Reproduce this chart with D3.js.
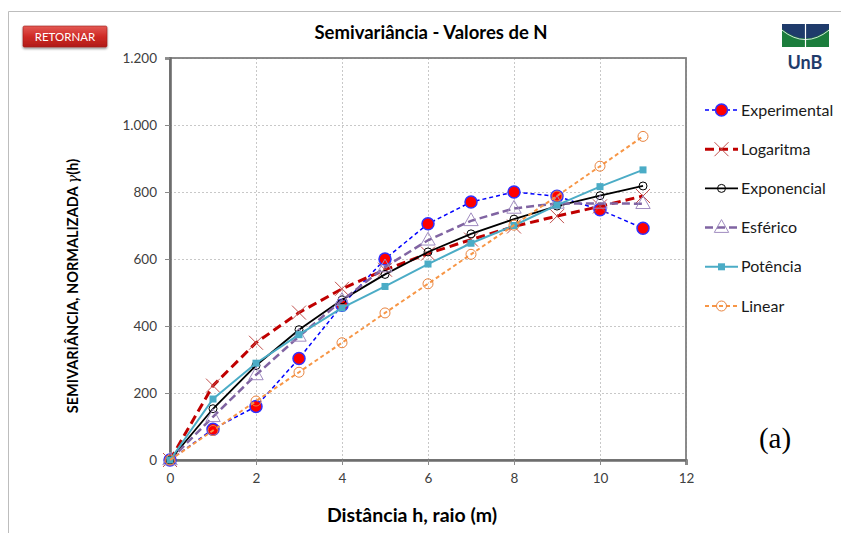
<!DOCTYPE html>
<html>
<head>
<meta charset="utf-8">
<script src="https://cdn.jsdelivr.net/npm/d3@7"></script>
<style>
  html, body { margin: 0; padding: 0; background: #fff; }
  svg { display: block; }
  text { font-family: Lato, "Noto Sans", sans-serif; }
</style>
</head>
<body>
<svg id="chart" width="841" height="533"></svg>
<script>
// Lag distances h (m)
const distances = [0, 1, 2, 3, 4, 5, 6, 7, 8, 9, 10, 11];

// Semivariance per model
const experimental = [0, 92, 160, 303, 462, 600, 705, 770, 800, 787, 747, 692];
const logaritma    = [0, 222, 350, 440, 511, 568, 616, 658, 697, 728, 757, 788];
const exponencial  = [0, 153, 282, 389, 478, 554, 621, 675, 719, 758, 789, 818];
const esferico     = [0, 129, 254, 369, 476, 576, 656, 714, 751, 766, 766, 765];
const potencia     = [0, 182, 289, 374, 454, 518, 585, 647, 700, 761, 816, 866];
const linear       = [0, 88, 176, 262, 350, 439, 526, 614, 701, 788, 877, 966];

const seriesNames = ["Experimental", "Logaritma", "Exponencial", "Esférico", "Potência", "Linear"];
const xTicks = [0, 2, 4, 6, 8, 10, 12];
const yTicks = [0, 200, 400, 600, 800, 1000, 1200];

const series = [
  { name: seriesNames[0], values: experimental, color: "#0000ff", width: 1.5, dash: "4,3", marker: "dot" },
  { name: seriesNames[1], values: logaritma,    color: "#c00000", width: 3,   dash: "9,5", marker: "cross" },
  { name: seriesNames[2], values: exponencial,  color: "#000000", width: 1.8, dash: null,  marker: "ring" },
  { name: seriesNames[3], values: esferico,     color: "#8064a2", width: 2.5, dash: "8,4", marker: "triangle" },
  { name: seriesNames[4], values: potencia,     color: "#4bacc6", width: 2,   dash: null,  marker: "square" },
  { name: seriesNames[5], values: linear,       color: "#f79646", width: 2,   dash: "4,3", marker: "oring" }
];

const svg = d3.select("#chart");
const ptBR = d3.formatLocale({ decimal: ",", thousands: ".", grouping: [3], currency: ["R$", ""] });
const fmt = ptBR.format(",d");

// Outer frame
svg.append("path")
  .attr("d", "M8.5,540 V11.5 H850")
  .attr("fill", "none").attr("stroke", "#bdbdbd").attr("stroke-width", 1);

// Plot area
const plot = { left: 170, right: 686, top: 58, bottom: 460 };
const x = d3.scaleLinear().domain([0, 12]).range([plot.left, plot.right]);
const y = d3.scaleLinear().domain([0, 1200]).range([plot.bottom, plot.top]);

// Grid
const grid = svg.append("g");
grid.selectAll("line.h").data(yTicks.slice(1)).join("line")
  .attr("x1", plot.left).attr("x2", plot.right)
  .attr("y1", d => y(d) + 0.5).attr("y2", d => y(d) + 0.5)
  .attr("stroke", "#c8c8c8").attr("stroke-dasharray", "2,2");
grid.selectAll("line.v").data(xTicks.slice(1)).join("line")
  .attr("y1", plot.top).attr("y2", plot.bottom)
  .attr("x1", d => x(d) + 0.5).attr("x2", d => x(d) + 0.5)
  .attr("stroke", "#c8c8c8").attr("stroke-dasharray", "2,2");

// Plot border
svg.append("rect")
  .attr("x", plot.left).attr("y", plot.top)
  .attr("width", plot.right - plot.left).attr("height", plot.bottom - plot.top)
  .attr("fill", "none").attr("stroke", "#7f7f7f").attr("stroke-width", 1.8);

// Axes
const yAxis = d3.axisLeft(y).tickValues(yTicks).tickFormat(fmt).tickSize(5).tickPadding(8);
const xAxis = d3.axisBottom(x).tickValues(xTicks).tickFormat(d3.format("d")).tickSize(5).tickPadding(8);

const gy = svg.append("g").attr("transform", `translate(${plot.left},0)`).call(yAxis);
const gx = svg.append("g").attr("transform", `translate(0,${plot.bottom})`).call(xAxis);
[gx, gy].forEach(g => {
  g.select(".domain").attr("stroke", "#6d6d6d").attr("stroke-width", 2.6);
  g.selectAll(".tick line").attr("stroke", "#8a8a8a");
  g.selectAll(".tick text").attr("fill", "#404040").style("font-size", "13.5px")
    .style("font-family", "Lato, 'Noto Sans', sans-serif");
});

// Marker drawing
function drawMarker(g, s, cx, cy) {
  switch (s.marker) {
    case "dot":
      g.append("circle").attr("cx", cx).attr("cy", cy).attr("r", 6)
        .attr("fill", "#ff0000").attr("stroke", "#3030ff").attr("stroke-width", 1.5);
      break;
    case "cross": {
      const r = 7;
      g.append("path")
        .attr("d", `M${cx - r},${cy - r}L${cx + r},${cy + r}M${cx - r},${cy + r}L${cx + r},${cy - r}`)
        .attr("stroke", "#c0504d").attr("stroke-width", 1).attr("fill", "none");
      break;
    }
    case "ring":
      g.append("circle").attr("cx", cx).attr("cy", cy).attr("r", 4)
        .attr("fill", "none").attr("stroke", "#000").attr("stroke-width", 1);
      break;
    case "triangle": {
      const r = 8;
      g.append("path")
        .attr("d", `M${cx},${cy - r}L${cx + r * 0.9},${cy + r * 0.6}L${cx - r * 0.9},${cy + r * 0.6}Z`)
        .attr("fill", "none").attr("stroke", "#a08cc0").attr("stroke-width", 1);
      break;
    }
    case "square":
      g.append("rect").attr("x", cx - 3.5).attr("y", cy - 3.5).attr("width", 7).attr("height", 7)
        .attr("fill", "#4bacc6");
      break;
    case "oring":
      g.append("circle").attr("cx", cx).attr("cy", cy).attr("r", 5)
        .attr("fill", "none").attr("stroke", "#e9843f").attr("stroke-width", 1);
      break;
  }
}

const line = d3.line().x((d, i) => x(distances[i])).y(d => y(d));

series.forEach(s => {
  const g = svg.append("g");
  g.append("path").datum(s.values)
    .attr("d", line)
    .attr("fill", "none")
    .attr("stroke", s.color)
    .attr("stroke-width", s.width)
    .attr("stroke-dasharray", s.dash);
  s.values.forEach((v, i) => drawMarker(g, s, x(distances[i]), y(v)));
});

// Legend
const legend = svg.append("g");
series.forEach((s, i) => {
  const cy = 110 + i * 39.2;
  const g = legend.append("g");
  g.append("line").attr("x1", 705).attr("x2", 738).attr("y1", cy).attr("y2", cy)
    .attr("stroke", s.color).attr("stroke-width", s.width)
    .attr("stroke-dasharray", s.dash);
  drawMarker(g, s, 721.5, cy);
  g.append("text").attr("x", 741).attr("y", cy + 5.5)
    .attr("fill", "#1a1a1a").style("font-size", "16px").text(s.name);
});

// Title
svg.append("text").attr("x", 431).attr("y", 39).attr("text-anchor", "middle")
  .style("font-size", "18.5px").style("font-weight", "bold").attr("fill", "#000")
  .text("Semivariância - Valores de N");

// Axis titles
svg.append("text").attr("x", 412).attr("y", 522).attr("text-anchor", "middle")
  .style("font-size", "19.5px").style("font-weight", "bold").attr("fill", "#000")
  .text("Distância h, raio (m)");

const yt = svg.append("text")
  .attr("transform", "translate(78,286) rotate(-90)")
  .attr("text-anchor", "middle")
  .style("font-size", "14.5px").style("font-weight", "bold").attr("fill", "#000");
yt.append("tspan").text("SEMIVARIÂNCIA, NORMALIZADA ");
yt.append("tspan").style("font-style", "italic").style("font-weight", "normal")
  .style("font-family", "'DejaVu Serif', serif").text("γ");
yt.append("tspan").text("(h)");

// Panel tag
svg.append("text").attr("x", 775).attr("y", 448).attr("text-anchor", "middle")
  .style("font-family", "'Liberation Serif', 'Times New Roman', serif")
  .style("font-size", "29px").attr("fill", "#000").text("(a)");

// Return button
const defs = svg.append("defs");
const grad = defs.append("linearGradient").attr("id", "btnGrad")
  .attr("x1", 0).attr("y1", 0).attr("x2", 0).attr("y2", 1);
grad.append("stop").attr("offset", "0%").attr("stop-color", "#e35a55");
grad.append("stop").attr("offset", "50%").attr("stop-color", "#cf2a25");
grad.append("stop").attr("offset", "100%").attr("stop-color", "#b01c18");
const shadow = defs.append("filter").attr("id", "btnShadow")
  .attr("x", "-20%").attr("y", "-30%").attr("width", "140%").attr("height", "170%");
shadow.append("feDropShadow").attr("dx", 0).attr("dy", 1.5).attr("stdDeviation", 1.2)
  .attr("flood-color", "#000").attr("flood-opacity", 0.45);

svg.append("rect").attr("x", 23).attr("y", 26).attr("width", 84).attr("height", 21)
  .attr("rx", 1.5).attr("fill", "url(#btnGrad)").attr("stroke", "#9c1a16").attr("stroke-width", 0.6)
  .attr("filter", "url(#btnShadow)");
svg.append("text").attr("x", 65).attr("y", 41).attr("text-anchor", "middle")
  .style("font-size", "11.5px").attr("fill", "#fff").text("RETORNAR");

// University logo
const logo = svg.append("g");
logo.append("rect").attr("x", 782).attr("y", 24).attr("width", 47).attr("height", 23).attr("fill", "#1b7d3c");
logo.append("path")
  .attr("d", "M782,24 H829 V29 Q805.5,48 782,29 Z")
  .attr("fill", "#1f3b6b");
logo.append("path")
  .attr("d", "M782,30.2 Q805.5,49 829,30.2")
  .attr("fill", "none").attr("stroke", "#fff").attr("stroke-width", 0.8);
logo.append("line").attr("x1", 805.5).attr("x2", 805.5).attr("y1", 24).attr("y2", 47)
  .attr("stroke", "#fff").attr("stroke-width", 1.2);
svg.append("text").attr("x", 805).attr("y", 69).attr("text-anchor", "middle")
  .style("font-size", "18px").style("font-weight", "bold").attr("fill", "#1f3b6b").text("UnB");
</script>
</body>
</html>
